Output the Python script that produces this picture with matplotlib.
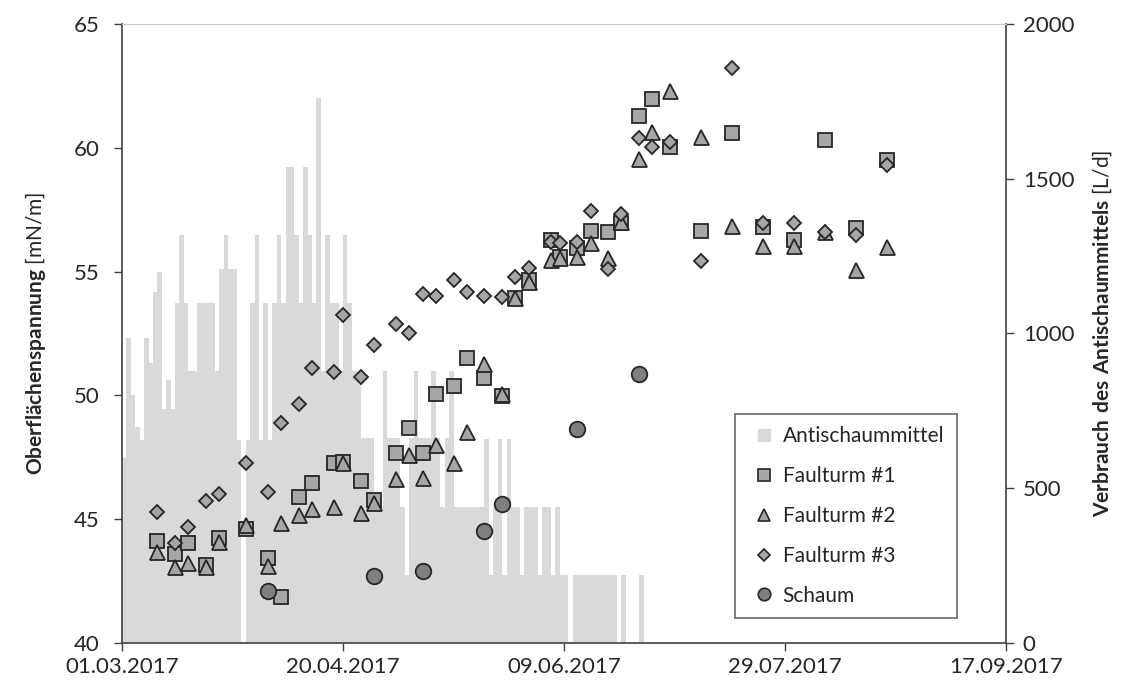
import matplotlib.pyplot as plt
import matplotlib.dates as mdates
from matplotlib.lines import Line2D
import numpy as np
import pandas as pd

plt.rcParams['font.family'] = ['Lato', 'DejaVu Sans']
plt.rcParams['mathtext.fontset'] = 'custom'
plt.rcParams['mathtext.rm'] = 'Lato'
plt.rcParams['mathtext.bf'] = 'Lato:bold'

start = pd.Timestamp('2017-03-01')

# daily consumption of anti-foam agent from 01.03.2017 [L/d]
antischaum = [
    597, 984, 801, 699, 656, 984, 904, 1135, 1198, 755,
    850, 755, 1098, 1318, 1098, 879, 879, 1098, 1098, 1098,
    1098, 879, 1208, 1318, 1208, 1208, 656, 0, 656, 1098,
    1318, 656, 1098, 656, 1098, 1318, 1098, 1539, 1539, 1318,
    1098, 1539, 1318, 1098, 1760, 879, 1318, 1098, 1098, 879,
    1318, 1098, 879, 879, 661, 661, 661, 438, 438, 879,
    661, 661, 661, 438, 220, 661, 879, 661, 661, 661,
    879, 661, 438, 661, 879, 438, 438, 438, 438, 438,
    438, 438, 658, 220, 438, 658, 220, 658, 438, 438,
    220, 438, 438, 438, 220, 438, 438, 220, 438, 220,
    220, 0, 220, 220, 220, 220, 220, 220, 220, 220,
    220, 220, 0, 220, 0, 0, 0, 220,
]

# sampling days (days after 01.03.2017) and surface tension [mN/m]
ft1_days = [8, 12, 15, 19, 22, 28, 33, 36, 40, 43, 48, 50, 54, 57, 62, 65, 68, 71, 75, 78,
            82, 86, 89, 92, 97, 99, 103, 106, 110, 113, 117, 120, 124, 131, 138, 145, 152,
            159, 166, 173]
ft1_vals = [44.13, 43.6, 44.05, 43.15, 44.23, 44.6, 43.45, 41.87, 45.91, 46.45, 47.28, 47.32,
            46.54, 45.78, 47.66, 48.7, 47.66, 50.04, 50.39, 51.52, 50.72, 49.99, 53.95, 54.65,
            56.28, 55.6, 55.94, 56.65, 56.59, 56.95, 61.3, 61.96, 60.02, 56.65, 60.58, 56.81,
            56.27, 60.31, 56.75, 59.51]

ft2_days = ft1_days
ft2_vals = [43.69, 43.08, 43.22, 43.08, 44.09, 44.77, 43.11, 44.83, 45.17, 45.41, 45.5, 47.26,
            45.24, 45.64, 46.61, 47.59, 46.65, 48.0, 47.28, 48.54, 51.26, 50.06, 53.92, 54.59,
            55.47, 55.54, 55.6, 56.14, 55.54, 57.02, 59.55, 60.63, 62.29, 60.45, 56.86, 56.05,
            56.05, 56.59, 55.06, 56.01]

ft3_days = ft1_days
ft3_vals = [45.28, 44.03, 44.7, 45.75, 46.0, 47.26, 46.09, 48.87, 49.65, 51.12, 50.96, 53.26,
            50.73, 52.04, 52.87, 52.5, 54.1, 54.03, 54.65, 54.16, 54.03, 53.96, 54.77, 55.16,
            56.21, 56.14, 56.21, 57.46, 55.1, 57.33, 60.38, 60.02, 60.25, 55.44, 63.21, 56.95,
            56.95, 56.59, 56.48, 59.31]

schaum_days = [33, 57, 68, 82, 86, 103, 117]
schaum_vals = [42.11, 42.71, 42.91, 44.53, 45.61, 48.64, 50.86]

tick_days = [0, 50, 100, 150, 200]


def to_dates(days):
    return start + pd.to_timedelta(np.array(days), unit='D')


fig = plt.figure(figsize=(11.36, 6.89), dpi=100)
ax = fig.add_axes([0.1074, 0.0668, 0.7782, 0.8984])
ax2 = ax.twinx()
ax.set_zorder(ax2.get_zorder() + 1)
ax.patch.set_visible(False)

bar_dates = to_dates(np.arange(len(antischaum)))
ax2.bar(bar_dates, antischaum, width=1.0, align='edge', color='#d9d9d9', linewidth=0)

edge = '#262626'
ax.plot(to_dates(ft1_days), ft1_vals, ls='none', marker='s', ms=9.4,
        mfc='#a6a6a6', mec=edge, mew=1.3)
ax.plot(to_dates(ft2_days), ft2_vals, ls='none', marker='^', ms=10.8,
        mfc='#a6a6a6', mec=edge, mew=1.3)
ax.plot(to_dates(ft3_days), ft3_vals, ls='none', marker='D', ms=7.1,
        mfc='#a6a6a6', mec=edge, mew=1.3)
ax.plot(to_dates(schaum_days), schaum_vals, ls='none', marker='o', ms=11.2,
        mfc='#7f7f7f', mec=edge, mew=1.3)

ax.set_xlim(to_dates([0])[0], to_dates([200])[0])
ax.set_xticks(to_dates(tick_days))
ax.xaxis.set_major_formatter(mdates.DateFormatter('%d.%m.%Y'))

ax.set_ylim(40, 65)
ax.set_yticks([40, 45, 50, 55, 60, 65])
ax2.set_ylim(0, 2000)
ax2.set_yticks([0, 500, 1000, 1500, 2000])

txt = '#262626'
ax.tick_params(axis='y', direction='out', length=6, width=1, labelsize=16, pad=10,
               colors='#404040', labelcolor=txt)
ax.tick_params(axis='x', direction='out', length=6, width=1, labelsize=16, pad=4,
               colors='#404040', labelcolor=txt)
ax2.tick_params(axis='y', direction='out', length=6, width=1, labelsize=16, pad=6,
                colors='#404040', labelcolor=txt)

for s in ['left', 'bottom']:
    ax.spines[s].set_color('#404040')
    ax.spines[s].set_linewidth(1.2)
ax.spines['right'].set_visible(False)
ax.spines['top'].set_color('#c8c8c8')
ax2.spines['right'].set_color('#404040')
ax2.spines['right'].set_linewidth(1.2)
for s in ['left', 'bottom', 'top']:
    ax2.spines[s].set_visible(False)

ax.set_ylabel(r'$\mathbf{Oberflächenspannung}$ [mN/m]', fontsize=15, color=txt)
ax.yaxis.set_label_coords(-0.084, 0.5)
ax2.set_ylabel(r'$\mathbf{Verbrauch\ des\ Antischaummittels}$ [L/d]', fontsize=15,
               color=txt, rotation=90)
ax2.yaxis.set_label_coords(1.095, 0.5)

handles = [
    Line2D([], [], ls='none', marker='s', ms=8, mfc='#d9d9d9', mec='#d9d9d9'),
    Line2D([], [], ls='none', marker='s', ms=8, mfc='#a6a6a6', mec=edge, mew=1.2),
    Line2D([], [], ls='none', marker='^', ms=9, mfc='#a6a6a6', mec=edge, mew=1.2),
    Line2D([], [], ls='none', marker='D', ms=6, mfc='#a6a6a6', mec=edge, mew=1.2),
    Line2D([], [], ls='none', marker='o', ms=9, mfc='#7f7f7f', mec=edge, mew=1.2),
]
labels = ['Antischaummittel', 'Faulturm #1', 'Faulturm #2', 'Faulturm #3', 'Schaum']
leg = ax.legend(handles, labels, loc='upper left', bbox_to_anchor=(0.693, 0.37),
                borderaxespad=0, frameon=True, fancybox=False, fontsize=15,
                labelspacing=0.95, handlelength=1.6, handletextpad=0.1,
                borderpad=0.6, labelcolor=txt)
leg.get_frame().set_edgecolor('#404040')
leg.get_frame().set_linewidth(1.2)

fig.savefig('out.png', dpi=100)
